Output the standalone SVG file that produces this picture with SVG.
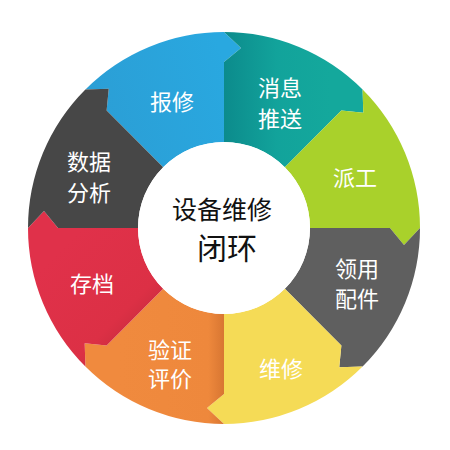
<svg xmlns="http://www.w3.org/2000/svg" width="450" height="450" viewBox="0 0 450 450">
<style>
.lbl{font-family:"Noto Sans CJK SC","Noto Sans",sans-serif;font-size:22px;fill:#ffffff;text-anchor:middle}
.ctr{font-family:"Noto Sans CJK SC","Noto Sans",sans-serif;fill:#111111;text-anchor:middle;font-weight:400}
</style>
<defs>
<linearGradient id="gTeal" gradientUnits="userSpaceOnUse" x1="224" y1="100" x2="330" y2="100">
<stop offset="0" stop-color="#0c8b8c"/><stop offset="0.5" stop-color="#12a39b"/><stop offset="1" stop-color="#14a89c"/>
</linearGradient>
<linearGradient id="gRed" gradientUnits="userSpaceOnUse" x1="70" y1="240" x2="160" y2="330">
<stop offset="0" stop-color="#e0314a"/><stop offset="0.7" stop-color="#dc3045"/><stop offset="1" stop-color="#bf2a3b"/>
</linearGradient>
<linearGradient id="gOrange" gradientUnits="userSpaceOnUse" x1="120" y1="380" x2="224" y2="380">
<stop offset="0" stop-color="#f08a3e"/><stop offset="0.85" stop-color="#ee883c"/><stop offset="1" stop-color="#d87632"/>
</linearGradient>
<linearGradient id="gBlue" gradientUnits="userSpaceOnUse" x1="100" y1="100" x2="224" y2="60">
<stop offset="0" stop-color="#2b9fd6"/><stop offset="1" stop-color="#29a8e0"/>
</linearGradient>
</defs>
<rect width="450" height="450" fill="#ffffff"/>
<g id="baoxiu">
<path fill="url(#gBlue)" d="M 163.19,167.19 L 106.62,110.62 L 108.74,88.70 L 85.41,89.41 A 196 196 0 0 1 224,32 L 241,48 L 224,62 L 224,142 A 86 86 0 0 0 163.19,167.19 Z"/>
<text class="lbl" x="172" y="110">报修</text>
</g>
<g id="xiaoxituisong">
<path fill="url(#gTeal)" d="M 224,142 L 224,62 L 241,48 L 224,32 A 196 196 0 0 1 362.59,89.41 L 363.30,112.74 L 341.38,110.62 L 284.81,167.19 A 86 86 0 0 0 224,142 Z"/>
<text class="lbl" x="280" y="96">消息</text>
<text class="lbl" x="280" y="127">推送</text>
</g>
<g id="paigong">
<path fill="#a9d12b" d="M 284.81,167.19 L 341.38,110.62 L 363.30,112.74 L 362.59,89.41 A 196 196 0 0 1 420,228 L 404,245 L 390,228 L 310,228 A 86 86 0 0 0 284.81,167.19 Z"/>
<text class="lbl" x="355" y="186">派工</text>
</g>
<g id="lingyongpeijian">
<path fill="#5f5f5f" d="M 310,228 L 390,228 L 404,245 L 420,228 A 196 196 0 0 1 362.59,366.59 L 339.26,367.30 L 341.38,345.38 L 284.81,288.81 A 86 86 0 0 0 310,228 Z"/>
<text class="lbl" x="357" y="277">领用</text>
<text class="lbl" x="357" y="307">配件</text>
</g>
<g id="weixiu">
<path fill="#f5db56" d="M 284.81,288.81 L 341.38,345.38 L 339.26,367.30 L 362.59,366.59 A 196 196 0 0 1 224,424 L 207,408 L 224,394 L 224,314 A 86 86 0 0 0 284.81,288.81 Z"/>
<text class="lbl" x="281" y="377">维修</text>
</g>
<g id="yanzhengpingjia">
<path fill="url(#gOrange)" d="M 224,314 L 224,394 L 207,408 L 224,424 A 196 196 0 0 1 85.41,366.59 L 84.70,343.26 L 106.62,345.38 L 163.19,288.81 A 86 86 0 0 0 224,314 Z"/>
<text class="lbl" x="170" y="358">验证</text>
<text class="lbl" x="170" y="387">评价</text>
</g>
<g id="cundang">
<path fill="url(#gRed)" d="M 163.19,288.81 L 106.62,345.38 L 84.70,343.26 L 85.41,366.59 A 196 196 0 0 1 28,228 L 44,211 L 58,228 L 138,228 A 86 86 0 0 0 163.19,288.81 Z"/>
<text class="lbl" x="92" y="292">存档</text>
</g>
<g id="shujufenxi">
<path fill="#474747" d="M 138,228 L 58,228 L 44,211 L 28,228 A 196 196 0 0 1 85.41,89.41 L 108.74,88.70 L 106.62,110.62 L 163.19,167.19 A 86 86 0 0 0 138,228 Z"/>
<text class="lbl" x="89" y="170">数据</text>
<text class="lbl" x="89" y="201">分析</text>
</g>
<g id="center">
<circle cx="224" cy="228" r="86" fill="#ffffff"/>
<text class="ctr" x="222" y="219" font-size="25">设备维修</text>
<text class="ctr" x="227" y="259" font-size="30">闭环</text>
</g>
</svg>
